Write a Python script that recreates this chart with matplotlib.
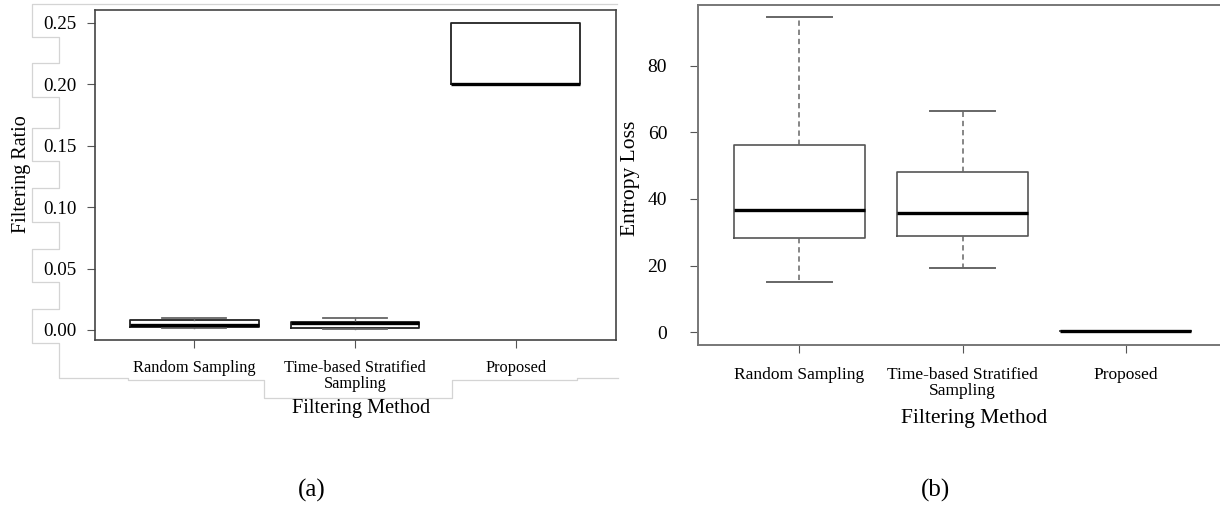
import matplotlib
matplotlib.use("Agg")
import matplotlib.pyplot as plt
from matplotlib.lines import Line2D

plt.rcParams['font.family'] = ['Liberation Serif', 'DejaVu Serif']

# categories
methods = ['Random Sampling', 'Time-based Stratified\nSampling', 'Proposed']

# (a) filtering ratio box stats
ratio_lo = [0.0016, 0.0010, 0.20]
ratio_q1 = [0.0027, 0.0014, 0.20]
ratio_med = [0.0038, 0.0055, 0.20]
ratio_q3 = [0.0079, 0.0063, 0.25]
ratio_hi = [0.0100, 0.0100, 0.25]

# (b) entropy loss box stats
ent_lo = [15.2, 19.2, 0.4]
ent_q1 = [28.3, 28.9, 0.4]
ent_med = [36.7, 35.9, 0.4]
ent_q3 = [56.3, 48.0, 0.4]
ent_hi = [94.5, 66.5, 0.4]

W, H = 1220, 507
fig = plt.figure(figsize=(W / 100, H / 100), dpi=100)


def px_axes(x0, y0, x1, y1):
    # pixel box (top-left origin) -> figure fraction
    return fig.add_axes([x0 / W, 1 - y1 / H, (x1 - x0) / W, (y1 - y0) / H])


def make_stats(lo, q1, med, q3, hi):
    return [dict(whislo=a, q1=b, med=c, q3=d, whishi=e, fliers=[])
            for a, b, c, d, e in zip(lo, q1, med, q3, hi)]


# faint outline left over from the pasted panel (a) image
outline = [(617, 4), (31.7, 4), (31.7, 37), (59.3, 37), (59.3, 63), (31.7, 63),
           (31.7, 97), (59.3, 97), (59.3, 128), (31.7, 128), (31.7, 161),
           (59.3, 161), (59.3, 188), (31.7, 188), (31.7, 222), (59.3, 222),
           (59.3, 249), (31.7, 249), (31.7, 282), (59.3, 282), (59.3, 309),
           (31.7, 309), (31.7, 343), (59.3, 343), (59.3, 377.7), (128.3, 377.7),
           (128.3, 380.3), (264.3, 380.3), (264.3, 397.7), (452, 397.7),
           (452, 380.3), (576.7, 380.3), (576.7, 377.7), (618, 377.7)]
fig.add_artist(Line2D([p[0] / W for p in outline], [1 - p[1] / H for p in outline],
                      color='#d4d4d4', lw=0.9))

# ---- panel (a)
ax1 = px_axes(94.5, 10, 615.7, 340.3)
ax1.set_facecolor('none')
res1 = ax1.bxp(make_stats(ratio_lo, ratio_q1, ratio_med, ratio_q3, ratio_hi),
               positions=[1, 2, 3], widths=0.8, capwidths=0.4, showfliers=False,
               boxprops=dict(color='#222222', lw=1.3),
               medianprops=dict(color='black', lw=2.4, solid_capstyle='butt'),
               whiskerprops=dict(color='#666666', lw=1.0),
               capprops=dict(color='#666666', lw=1.3))
# proposed: whiskers collapse onto the box edges
for ln in res1['caps'][4:] + res1['whiskers'][4:]:
    ln.set_visible(False)
ax1.set_xlim(0.379, 3.622)
ax1.set_ylim(-0.00838, 0.2603)
ax1.set_yticks([0.00, 0.05, 0.10, 0.15, 0.20, 0.25])
ax1.set_yticklabels(['0.00', '0.05', '0.10', '0.15', '0.20', '0.25'])
ax1.set_xticks([1, 2, 3])
ax1.set_xticklabels(methods, fontsize=11.8, linespacing=1.0)
ax1.tick_params(axis='y', labelsize=13.7, length=6, pad=7, color='#555555')
ax1.tick_params(axis='x', length=6, pad=8, color='#555555')
for s in ax1.spines.values():
    s.set_color('#444444')
    s.set_linewidth(1.2)
fig.text(22 / W, 1 - 174 / H, 'Filtering Ratio', rotation=90,
         ha='center', va='center', fontsize=14.5)
fig.text(361 / W, 1 - 408 / H, 'Filtering Method',
         ha='center', va='center', fontsize=14.7)

# ---- panel (b)
ax2 = px_axes(697.7, 5, 1225, 344.7)
ax2.bxp(make_stats(ent_lo, ent_q1, ent_med, ent_q3, ent_hi),
        positions=[1, 2, 3], widths=0.8, capwidths=0.4, showfliers=False,
        boxprops=dict(color='#555555', lw=1.2),
        medianprops=dict(color='black', lw=2.4, solid_capstyle='butt'),
        whiskerprops=dict(color='#666666', lw=1.1, linestyle=(0, (3.5, 2.5))),
        capprops=dict(color='#666666', lw=1.4))
ax2.set_xlim(0.3775, 3.608)
ax2.set_ylim(-3.72, 98.2)
ax2.set_yticks([0, 20, 40, 60, 80])
ax2.set_xticks([1, 2, 3])
ax2.set_xticklabels(methods, fontsize=12.5, linespacing=1.0)
ax2.tick_params(axis='y', labelsize=14, length=6, pad=16, color='#555555')
ax2.tick_params(axis='x', length=6, pad=10, color='#555555')
ax2.spines['right'].set_visible(False)
for s in ax2.spines.values():
    s.set_color('#777777')
    s.set_linewidth(1.4)
fig.text(631 / W, 1 - 178 / H, 'Entropy Loss', rotation=90,
         ha='center', va='center', fontsize=15.5)
fig.text(974.5 / W, 1 - 418 / H, 'Filtering Method',
         ha='center', va='center', fontsize=15.5)

# captions
fig.text(312 / W, 1 - 490 / H, '(a)', ha='center', va='center', fontsize=18)
fig.text(935 / W, 1 - 490 / H, '(b)', ha='center', va='center', fontsize=18)

fig.savefig('out.png', dpi=100)
